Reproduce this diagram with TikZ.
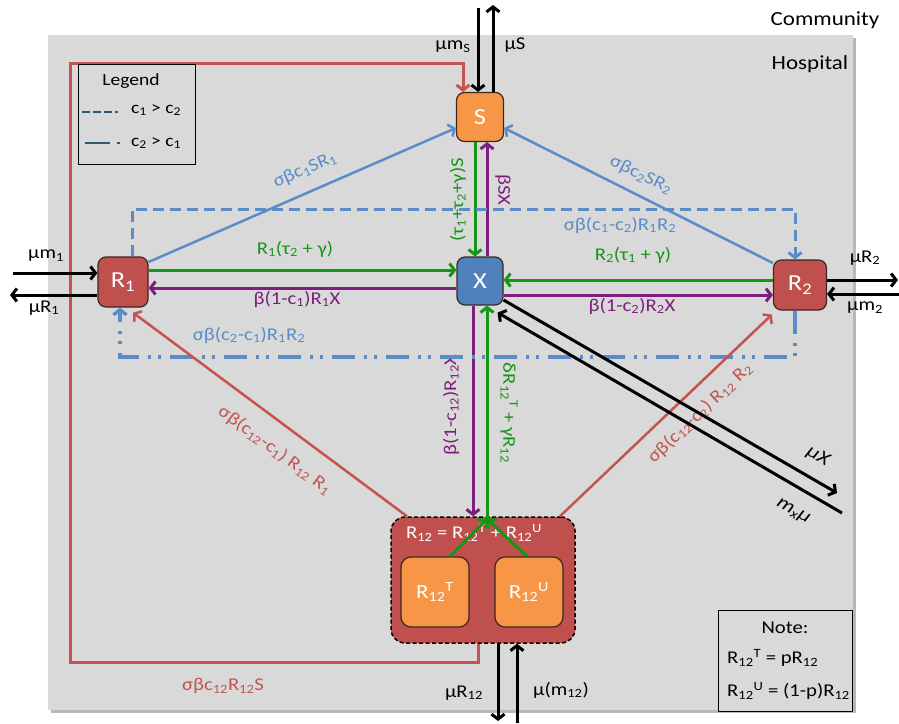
\documentclass[tikz,border=0pt]{standalone}
\usepackage{fontspec}
\setmainfont{Carlito}[FakeStretch=1.15]
\usetikzlibrary{arrows.meta,calc}
\definecolor{grnc}{RGB}{22,150,22}
\definecolor{purc}{RGB}{125,30,125}
\definecolor{bluc}{RGB}{92,140,200}
\definecolor{redc}{RGB}{196,84,80}
\definecolor{orng}{RGB}{247,150,70}
\definecolor{boxred}{RGB}{192,80,77}
\definecolor{boxblue}{RGB}{79,129,189}
\definecolor{bggray}{RGB}{217,217,217}
\definecolor{bord}{RGB}{60,40,30}
\definecolor{legc}{RGB}{49,89,110}
\newcommand{\mysub}[1]{\textsubscript{#1}}
\newcommand{\mysup}[1]{\textsuperscript{#1}}
\begin{document}
\begin{tikzpicture}[x=1pt,y=-1pt,
 lbl/.style={font=\fontsize{18}{20}\selectfont, inner sep=0pt},
 box/.style={draw=bord, line width=1.2pt, rounded corners=8pt, text=white, font=\fontsize{23}{26}\selectfont, inner sep=0pt},
 arr/.style={-{Straight Barb[length=5pt,width=13pt]}},
 blk/.style={black, line width=3pt, arr},
 gr/.style={grnc, line width=3pt, arr},
 pu/.style={purc, line width=3pt, arr},
 bl/.style={bluc, line width=2.5pt, arr},
 rd/.style={redc, line width=2.5pt, arr}]
\useasboundingbox (0,0) rectangle (899,723);
\fill[black!28] (51,38) rectangle (856,713);
\fill[bggray] (48,35) rectangle (853,710);

% titles
\node[lbl, font=\fontsize{20}{22}\selectfont] (comm) at (825,20) {Community};
\node[lbl, font=\fontsize{20}{22}\selectfont] (hosp) at (810,64) {Hospital};

% boxes
\node[box, fill=orng, minimum width=47pt, minimum height=49pt] (S) at (480,117) {S};
\node[box, fill=boxblue, minimum width=46pt, minimum height=48pt] (X) at (480,281) {X};
\node[box, fill=boxred, minimum width=50pt, minimum height=50pt] (R1) at (123,282) {R\mysub{1}};
\node[box, fill=boxred, minimum width=53pt, minimum height=50pt] (R2) at (800,285) {R\mysub{2}};
\node[box, fill=boxred, draw=black, line width=1.5pt, dash pattern=on 4pt off 2.5pt, rounded corners=14pt, minimum width=184pt, minimum height=126pt] (R12) at (483,580) {};
\node[box, fill=orng, rounded corners=10pt, minimum width=68pt, minimum height=70pt, font=\fontsize{20}{22}\selectfont] (R12T) at (435,592) {R\mysub{12}\mysup{T}};
\node[box, fill=orng, rounded corners=10pt, minimum width=68pt, minimum height=70pt, font=\fontsize{20}{22}\selectfont] (R12U) at (529,592) {R\mysub{12}\mysup{U}};
\node[lbl, text=white] (R12eq) at (474,533) {R\mysub{12} = R\mysub{12}\mysup{T} + R\mysub{12}\mysup{U}};

% big red loop
\draw[rd, line width=3pt] (R12.south -| 478,0) -- (478,662) -- (70,662) -- (70,63) -- (463,63) -- (S.north -| 463,0);
\node[lbl, text=redc] (lsc) at (223,686) {σβc\mysub{12}R\mysub{12}S};

% S <-> X
\draw[gr] (S.south -| 475,0) -- (X.north -| 475,0);
\draw[pu] (X.north -| 487,0) -- (S.south -| 487,0);
\node[lbl, text=grnc, rotate=90] (ltau) at (458,200) {(τ\mysub{1}+τ\mysub{2}+γ)S};
\node[lbl, text=purc, rotate=-90] (lbsx) at (503,190) {βSX};

% R1 <-> X
\draw[gr] (R1.east |- 0,270) -- (X.west |- 0,270);
\draw[pu] (X.west |- 0,288) -- (R1.east |- 0,288);
\node[lbl, text=grnc] (lr1) at (295,249) {R\mysub{1}(τ\mysub{2} + γ)};
\node[lbl, text=purc] (lb1) at (297,299) {β(1-c\mysub{1})R\mysub{1}X};

% R2 <-> X
\draw[gr] (R2.west |- 0,280) -- (X.east |- 0,280);
\draw[pu] (X.east |- 0,295) -- (R2.west |- 0,295);
\node[lbl, text=grnc] (lr2) at (633,255) {R\mysub{2}(τ\mysub{1} + γ)};
\node[lbl, text=purc] (lb2) at (632,306) {β(1-c\mysub{2})R\mysub{2}X};

% X <-> R12
\draw[pu] (X.south -| 473,0) -- (R12.north -| 473,0);
\coordinate (jn) at (487,519);
\draw[gr] (R12T.north -| 450,0) -- (jn);
\draw[gr] (R12U.north -| 527,0) -- (jn);
\draw[gr] (jn) -- (X.south -| 487,0);
\node[lbl, text=purc, rotate=90] (lb12) at (451,405) {β(1-c\mysub{12})R\mysub{12}X};
\node[lbl, text=grnc, rotate=-90] (ld12) at (509,413) {δR\mysub{12}\mysup{T} + γR\mysub{12}};

% blue S arrows
\draw[bl] (R1.east |- 0,262) -- (S.west |- 0,128);
\draw[bl] (R2.west |- 0,263) -- (S.east |- 0,128);
\node[lbl, text=bluc, rotate=23.5] (ls1) at (305,170) {σβc\mysub{1}SR\mysub{1}};
\node[lbl, text=bluc, rotate=-26] (ls2) at (641,175) {σβc\mysub{2}SR\mysub{2}};

% blue dashed c1>c2
\coordinate (d1) at (132,209);
\coordinate (d2) at (795,209);
\draw[bl, line width=3pt, dash pattern=on 11pt off 6pt] (R1.north -| d1) -- (d1) -- (d2) -- (R2.north -| d2);
\node[lbl, text=bluc] (ld1) at (620,225) {σβ(c\mysub{1}-c\mysub{2})R\mysub{1}R\mysub{2}};

% blue dash-dot c2>c1
\coordinate (e1) at (795,357);
\coordinate (e2) at (120,357);
\draw[bl, line width=3.5pt, dash pattern=on 23pt off 9pt on 3pt off 7pt on 3pt off 9pt] (R2.south -| e1) -- (e1) -- (e2) -- (R1.south -| e2);
\node[lbl, text=bluc] (ld2) at (249,335) {σβ(c\mysub{2}-c\mysub{1})R\mysub{1}R\mysub{2}};

% red R12 -> R1, R2
\draw[rd] (R12.north -| 407,0) -- ([xshift=10pt,yshift=-5pt]R1.south);
\draw[rd] (R12.north -| 560,0) -- ([xshift=-1pt,yshift=-4pt]R2.south west);
\node[lbl, text=redc, rotate=-36.5] (lrr1) at (275,450) {σβ(c\mysub{12}-c\mysub{1}) R\mysub{12} R\mysub{1}};
\node[lbl, text=redc, rotate=43.6] (lrr2) at (700,413) {σβ(c\mysub{12}-c\mysub{2}) R\mysub{12} R\mysub{2}};

% X exits
\coordinate (ex1) at (837,493);
\coordinate (ex2) at (842,513);
\draw[blk] (X.east |- 0,300) -- (ex1);
\draw[blk] (ex2) -- ([xshift=-6pt,yshift=-7pt]X.south east);
\node[lbl, font=\fontsize{19}{21}\selectfont\itshape, rotate=-30] (lmx) at (818,456) {µX};
\node[lbl, font=\fontsize{19}{21}\selectfont\itshape, rotate=-30] (lmxm) at (793,512) {m\mysub{x}µ};

% community flows
\coordinate (t1) at (478,8);
\coordinate (t2) at (493,5);
\draw[blk] (t1) -- (S.north -| t1);
\draw[blk] (S.north -| t2) -- (t2);
\node[lbl] (lms) at (453,47) {µm\mysub{S}};
\node[lbl] (lmus) at (515,45) {µS};

\coordinate (l1) at (13,273);
\coordinate (l2) at (10,295);
\draw[blk] (l1) -- (R1.west |- l1);
\draw[blk] (R1.west |- l2) -- (l2);
\node[lbl] (lm1) at (46,256) {µm\mysub{1}};
\node[lbl] (lmr1) at (44,308) {µR\mysub{1}};

\coordinate (r1) at (898,280);
\coordinate (r2) at (899,294);
\draw[blk] (R2.east |- r1) -- (r1);
\draw[blk] (r2) -- (R2.east |- r2);
\node[lbl] (lmr2) at (865,258) {µR\mysub{2}};
\node[lbl] (lm2) at (865,308) {µm\mysub{2}};

\coordinate (b1) at (498,721);
\coordinate (b2) at (517,723);
\draw[blk] (R12.south -| b1) -- (b1);
\draw[blk] (b2) -- (R12.south -| b2);
\node[lbl] (lmr12) at (464,693) {µR\mysub{12}};
\node[lbl] (lm12) at (561,690) {µ(m\mysub{12})};

% legend
\node[draw, line width=1pt, fill=bggray, minimum width=117pt, minimum height=100pt, inner sep=0pt] (leg) at (136.5,114) {};
\node[lbl, font=\fontsize{17}{19}\selectfont] (legt) at (131,81) {Legend};
\draw[legc, line width=2.5pt, dash pattern=on 8pt off 3pt] (82,112) -- (118,112);
\node[lbl, font=\fontsize{17}{19}\selectfont] (leg1) at (156,110) {c\mysub{1} > c\mysub{2}};
\draw[legc, line width=2.5pt, dash pattern=on 25pt off 7pt on 2.5pt off 20pt] (85,143) -- (121,143);
\node[lbl, font=\fontsize{17}{19}\selectfont] (leg2) at (156,143) {c\mysub{2} > c\mysub{1}};

% note
\node[draw, line width=1pt, fill=bggray, minimum width=134pt, minimum height=101pt, inner sep=0pt] (note) at (785,660.5) {};
\node[lbl] (nt) at (785,628) {Note:};
\node[lbl, anchor=west] (n1) at (727,658) {R\mysub{12}\mysup{T} = pR\mysub{12}};
\node[lbl, anchor=west] (n2) at (727,691) {R\mysub{12}\mysup{U} = (1-p)R\mysub{12}};
\end{tikzpicture}
\end{document}
